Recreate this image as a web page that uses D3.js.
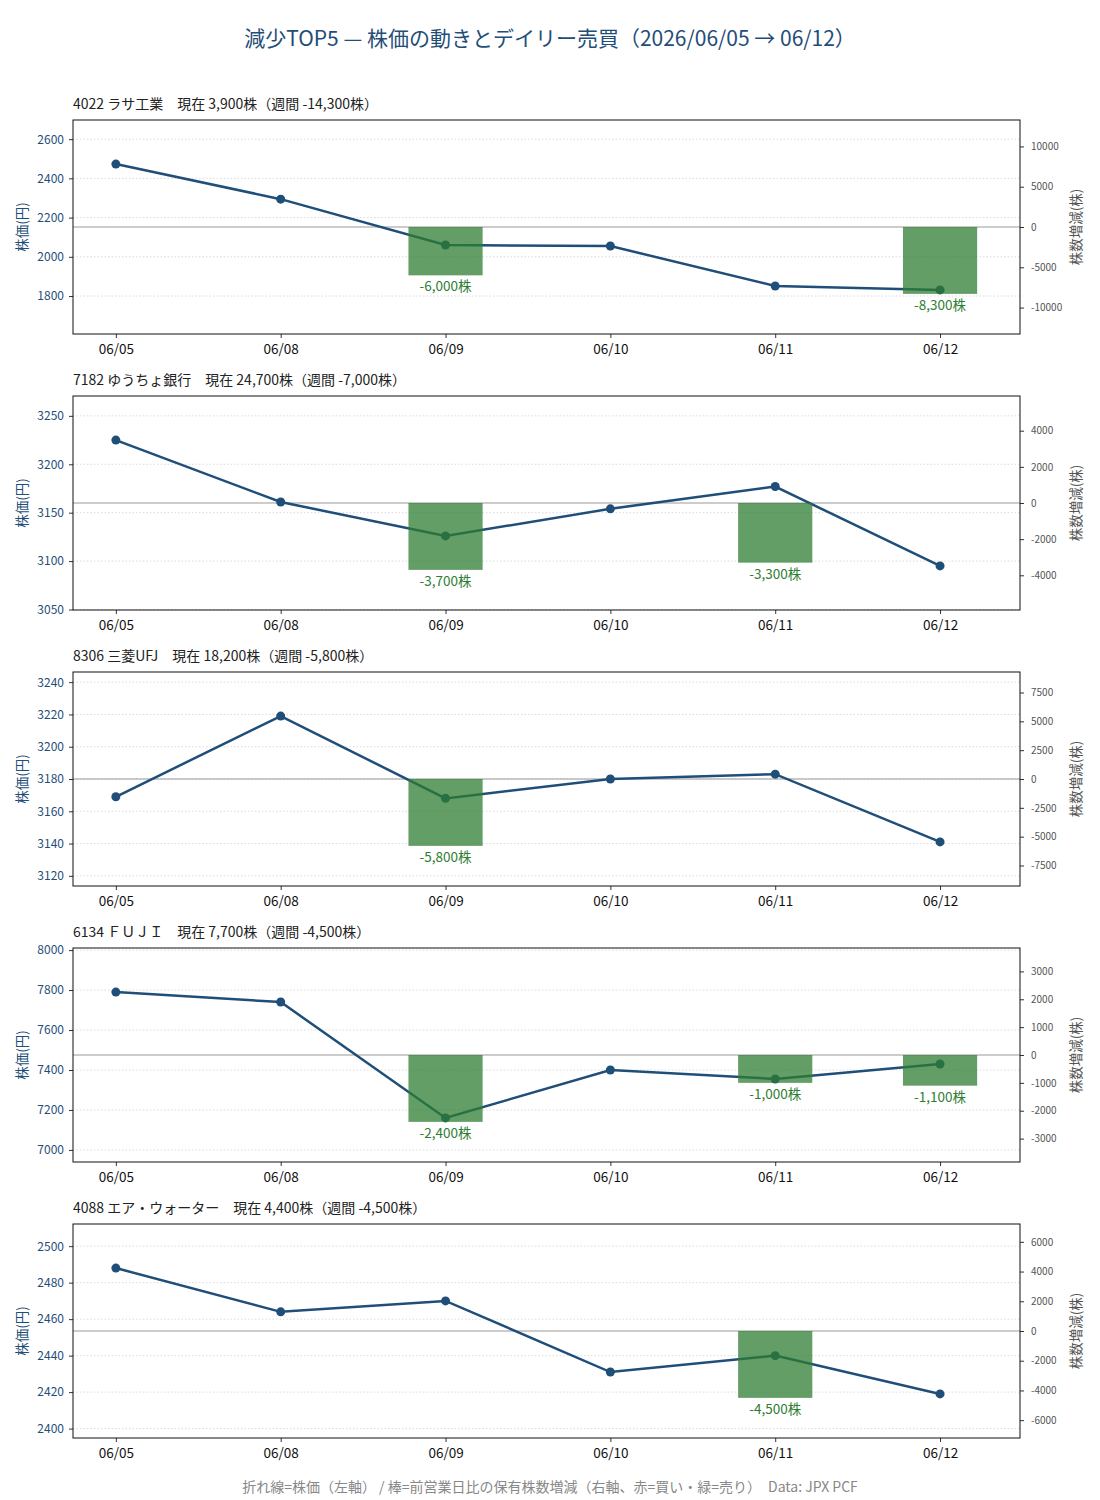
<!DOCTYPE html>
<html>
<head>
<meta charset="utf-8">
<script src="https://cdn.jsdelivr.net/npm/d3@7"></script>
<style>
  body { margin: 0; background: #fff; }
  svg, svg text { font-family: "Noto Sans CJK JP", "Noto Sans", sans-serif; }
</style>
</head>
<body>
<div id="chart"></div>
<script>
// 日付（営業日）
const dates = ['06/05', '06/08', '06/09', '06/10', '06/11', '06/12'];

// 銘柄ごとのタイトル
const titles = [
  '4022 ラサ工業\u3000現在 3,900株（週間 -14,300株）',
  '7182 ゆうちょ銀行\u3000現在 24,700株（週間 -7,000株）',
  '8306 三菱UFJ\u3000現在 18,200株（週間 -5,800株）',
  '6134 ＦＵＪＩ\u3000現在 7,700株（週間 -4,500株）',
  '4088 エア・ウォーター\u3000現在 4,400株（週間 -4,500株）'
];

// 株価（左軸）
const prices = [
  [2473, 2294, 2060, 2055, 1851, 1831],
  [3225, 3161, 3126, 3154, 3177, 3095],
  [3169, 3219, 3168, 3180, 3183, 3141],
  [7790, 7740, 7160, 7400, 7355, 7430],
  [2488, 2464, 2470, 2431, 2440, 2419]
];

// 前営業日比の株数増減（右軸）
const deltas = [
  [0, 0, -6000, 0, 0, -8300],
  [0, 0, -3700, 0, -3300, 0],
  [0, 0, -5800, 0, 0, 0],
  [0, 0, -2400, 0, -1000, -1100],
  [0, 0, 0, 0, -4500, 0]
];

// 目盛り間隔
const leftTickStep = [200, 50, 20, 200, 20];
const rightTickStep = [5000, 2000, 2500, 1000, 2000];

const W = 1100, H = 1500;
const plotLeft = 73, plotRight = 1020;
const plotH = 214, firstTop = 120, gap = 276;

const BLUE = '#1f4e79';
const GREEN = '#2e7d32';
const RED = '#c62828';
const FONT = '"Noto Sans CJK JP", "Noto Sans", sans-serif';

const svg = d3.select('#chart').append('svg')
  .attr('width', W).attr('height', H);

svg.append('text')
  .attr('x', W / 2).attr('y', 46)
  .attr('text-anchor', 'middle')
  .attr('font-size', 21)
  .attr('fill', BLUE)
  .text('減少TOP5 — 株価の動きとデイリー売買（2026/06/05 → 06/12）');

const x = d3.scaleLinear().domain([-0.26, 5.485]).range([plotLeft, plotRight]);
const comma = d3.format(',');
const fmt = v => comma(v).replace('\u2212', '-');
const plain = v => String(v);

titles.forEach((title, i) => {
  const top = firstTop + i * gap;
  const g = svg.append('g').attr('transform', `translate(0,${top})`);

  const p = prices[i];
  const lo = d3.min(p), hi = d3.max(p), pad = (hi - lo) * 0.35;
  const yL = d3.scaleLinear().domain([lo - pad, hi + pad]).range([plotH, 0]);

  const dm = d3.max(deltas[i], d => Math.abs(d)) * 1.6;
  const yR = d3.scaleLinear().domain([-dm, dm]).range([plotH, 0]);

  const ls = leftTickStep[i];
  const leftTicks = d3.range(Math.ceil((lo - pad) / ls) * ls, hi + pad, ls);
  const rs = rightTickStep[i];
  const rightTicks = d3.range(Math.ceil(-dm / rs) * rs, dm, rs);

  // panel title
  g.append('text')
    .attr('x', plotLeft).attr('y', -11)
    .attr('font-size', 14)
    .attr('fill', '#222')
    .text(title);

  // grid
  g.selectAll('.grid').data(leftTicks).join('line')
    .attr('x1', plotLeft).attr('x2', plotRight)
    .attr('y1', d => yL(d)).attr('y2', d => yL(d))
    .attr('stroke', '#ccc').attr('stroke-width', 0.7)
    .attr('stroke-dasharray', '1.5,2');

  // zero line
  g.append('line')
    .attr('x1', plotLeft).attr('x2', plotRight)
    .attr('y1', yR(0)).attr('y2', yR(0))
    .attr('stroke', '#999').attr('stroke-width', 1);

  // price line
  const line = d3.line().x((d, j) => x(j)).y(d => yL(d));
  g.append('path')
    .datum(p)
    .attr('d', line)
    .attr('fill', 'none')
    .attr('stroke', BLUE)
    .attr('stroke-width', 2.5);
  g.selectAll('.dot').data(p).join('circle')
    .attr('cx', (d, j) => x(j)).attr('cy', d => yL(d))
    .attr('r', 4.5).attr('fill', BLUE);

  // bars
  const bw = x(0.45) - x(0);
  const bars = deltas[i].map((v, j) => ({ v, j })).filter(d => d.v !== 0);
  g.selectAll('.bar').data(bars).join('rect')
    .attr('x', d => x(d.j) - bw / 2)
    .attr('width', bw)
    .attr('y', d => yR(Math.max(0, d.v)))
    .attr('height', d => Math.abs(yR(d.v) - yR(0)))
    .attr('fill', d => d.v < 0 ? GREEN : RED)
    .attr('opacity', 0.75);
  g.selectAll('.blab').data(bars).join('text')
    .attr('x', d => x(d.j))
    .attr('y', d => d.v < 0 ? yR(d.v) + 16 : yR(d.v) - 5)
    .attr('text-anchor', 'middle')
    .attr('font-size', 13.5)
    .attr('fill', d => d.v < 0 ? GREEN : RED)
    .text(d => fmt(d.v) + '株');

  // axes
  const axL = g.append('g').attr('transform', `translate(${plotLeft},0)`)
    .call(d3.axisLeft(yL).tickValues(leftTicks).tickSize(4).tickPadding(5).tickFormat(plain));
  axL.attr('font-family', FONT);
  axL.selectAll('text').attr('font-size', 12).attr('fill', BLUE);
  axL.selectAll('line').attr('stroke', '#333');
  axL.select('.domain').remove();

  const axR = g.append('g').attr('transform', `translate(${plotRight},0)`)
    .call(d3.axisRight(yR).tickValues(rightTicks).tickSize(4).tickPadding(7).tickFormat(plain));
  axR.attr('font-family', FONT);
  axR.selectAll('text').attr('font-size', 10).attr('fill', '#555');
  axR.selectAll('line').attr('stroke', '#333');
  axR.select('.domain').remove();

  const axB = g.append('g').attr('transform', `translate(0,${plotH})`)
    .call(d3.axisBottom(x).tickValues(d3.range(dates.length)).tickSize(4).tickPadding(6).tickFormat(j => dates[j]));
  axB.attr('font-family', FONT);
  axB.selectAll('text').attr('font-size', 13.5).attr('fill', '#111');
  axB.selectAll('line').attr('stroke', '#333');
  axB.select('.domain').remove();

  // frame
  g.append('rect')
    .attr('x', plotLeft).attr('y', 0)
    .attr('width', plotRight - plotLeft).attr('height', plotH)
    .attr('fill', 'none').attr('stroke', '#111').attr('stroke-width', 1);

  // axis titles
  g.append('text')
    .attr('transform', `translate(27,${plotH / 2}) rotate(-90)`)
    .attr('text-anchor', 'middle')
    .attr('font-size', 13.5)
    .attr('fill', BLUE)
    .text('株価(円)');
  g.append('text')
    .attr('transform', `translate(1081,${plotH / 2}) rotate(-90)`)
    .attr('text-anchor', 'middle')
    .attr('font-size', 13.5)
    .attr('fill', '#555')
    .text('株数増減(株)');
});

svg.append('text')
  .attr('x', 550).attr('y', 1492)
  .attr('text-anchor', 'middle')
  .attr('font-size', 14)
  .attr('fill', '#888')
  .text('折れ線=株価（左軸） / 棒=前営業日比の保有株数増減（右軸、赤=買い・緑=売り）\u3000Data: JPX PCF');
</script>
</body>
</html>
